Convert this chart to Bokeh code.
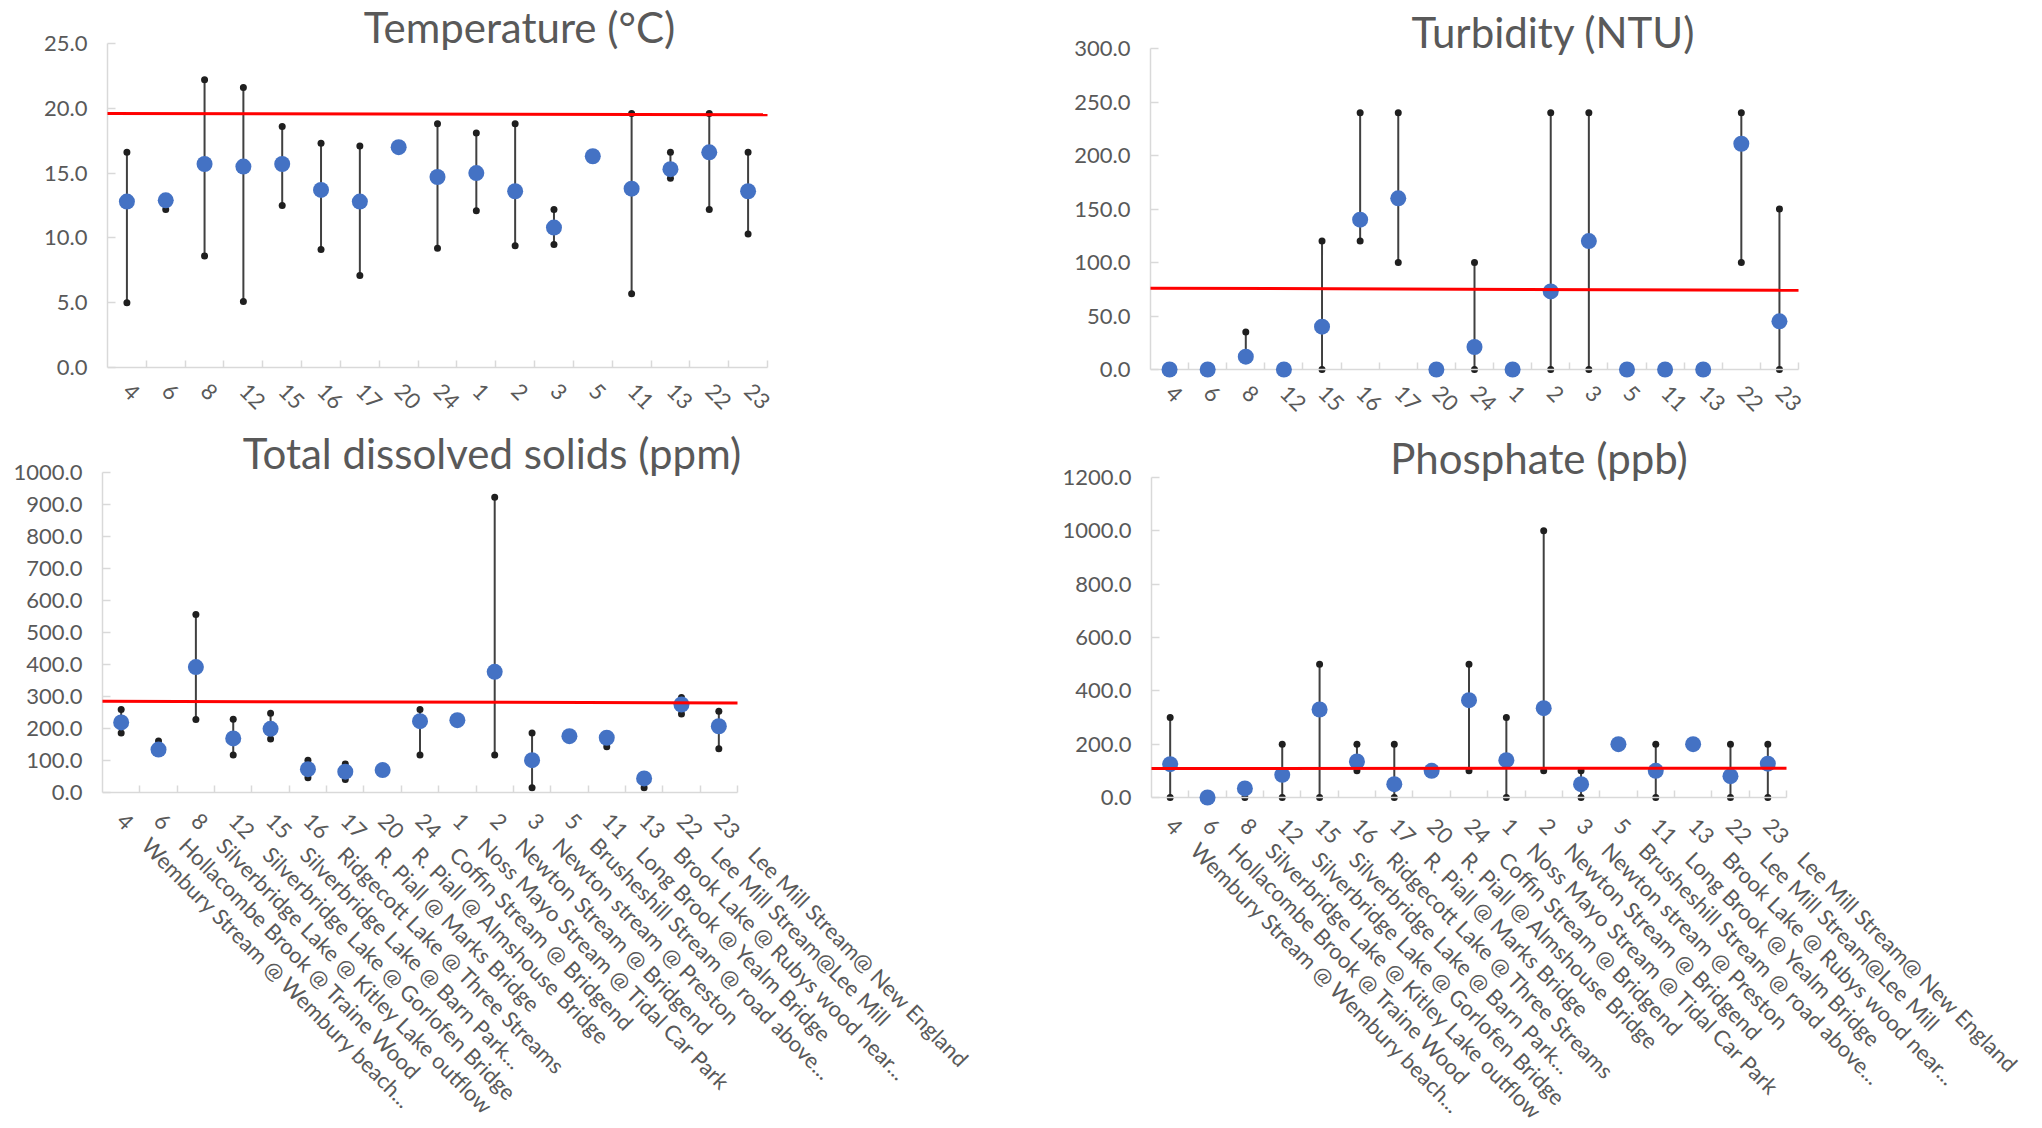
import math
from bokeh.plotting import figure
from bokeh.models import Range1d, FixedTicker, PrintfTickFormatter, Label, ColumnDataSource
from bokeh.layouts import column, row
from bokeh.embed import file_html
from bokeh.resources import INLINE

# ---------------- data ----------------
sites = ["4", "6", "8", "12", "15", "16", "17", "20", "24", "1", "2", "3", "5", "11", "13", "22", "23"]
site_names = [
    "Wembury Stream @ Wembury beach...",
    "Hollacombe Brook @ Traine Wood",
    "Silverbridge Lake @ Kitley Lake outflow",
    "Silverbridge Lake @ Gorlofen Bridge",
    "Silverbridge Lake @ Barn Park...",
    "Ridgecott Lake @ Three Streams",
    "R. Piall @ Marks Bridge",
    "R. Piall @ Almshouse Bridge",
    "Coffin Stream @ Bridgend",
    "Noss Mayo Stream @ Tidal Car Park",
    "Newton Stream @ Bridgend",
    "Newton stream @ Preston",
    "Brusheshill Stream @ road above...",
    "Long Brook @ Yealm Bridge",
    "Brook Lake @ Rubys wood near...",
    "Lee Mill Stream@Lee Mill",
    "Lee Mill Stream@ New England",
]

temp_mean = [12.8, 12.9, 15.7, 15.5, 15.7, 13.7, 12.8, 17.0, 14.7, 15.0, 13.6, 10.8, 16.3, 13.8, 15.3, 16.6, 13.6]
temp_low = [5.0, 12.2, 8.6, 5.1, 12.5, 9.1, 7.1, 17.0, 9.2, 12.1, 9.4, 9.5, 16.3, 5.7, 14.6, 12.2, 10.3]
temp_high = [16.6, 12.9, 22.2, 21.6, 18.6, 17.3, 17.1, 17.0, 18.8, 18.1, 18.8, 12.2, 16.3, 19.6, 16.6, 19.6, 16.6]
temp_limit = [19.6, 19.5]
temp_ticks = [0.0, 5.0, 10.0, 15.0, 20.0, 25.0]

turb_mean = [0, 0, 12, 0, 40, 140, 160, 0, 21, 0, 73, 120, 0, 0, 0, 211, 45]
turb_low = [0, 0, 12, 0, 0, 120, 100, 0, 0, 0, 0, 0, 0, 0, 0, 100, 0]
turb_high = [0, 0, 35, 0, 120, 240, 240, 0, 100, 0, 240, 240, 0, 0, 0, 240, 150]
turb_limit = [76, 74]
turb_ticks = [0.0, 50.0, 100.0, 150.0, 200.0, 250.0, 300.0]

tds_mean = [219, 134, 392, 169, 199, 73, 65, 70, 223, 226, 377, 101, 176, 171, 44, 275, 207]
tds_low = [186, 134, 228, 117, 167, 46, 41, 70, 117, 226, 117, 15, 176, 143, 15, 245, 137]
tds_high = [259, 161, 556, 229, 248, 101, 89, 70, 259, 226, 923, 186, 176, 171, 44, 297, 254]
tds_limit = [285, 280]
tds_ticks = [0.0, 100.0, 200.0, 300.0, 400.0, 500.0, 600.0, 700.0, 800.0, 900.0, 1000.0]

phos_mean = [125, 0, 34, 85, 330, 135, 50, 100, 365, 140, 335, 50, 200, 100, 200, 80, 127]
phos_low = [0, 0, 0, 0, 0, 100, 0, 100, 100, 0, 100, 0, 200, 0, 200, 0, 0]
phos_high = [300, 0, 34, 200, 500, 200, 200, 100, 500, 300, 1000, 100, 200, 200, 200, 200, 200]
phos_limit = [109, 110]
phos_ticks = [0.0, 200.0, 400.0, 600.0, 800.0, 1000.0, 1200.0]

# ---------------- style ----------------
FONT = "Lato"
TXT = "#595959"
AXIS = "#D9D9D9"
BLUE = "#4472C4"
NBSP = "\u00a0"


def make_panel(title, mean, low, high, limit, yticks, show_names,
               fig_w, fig_h, left, frame_w, top_px, zero_px, title_dx, title_rise, standoff):
    n = len(sites)
    xs = list(range(1, n + 1))
    x_lo, x_hi = 0.5, n + 0.5
    x_per_px = (x_hi - x_lo) / frame_w
    ymax = yticks[-1]
    per_px = ymax / (zero_px - top_px)
    # the plotting area fills the canvas (right, top, bottom) so that the
    # rotated labels and the title are not clipped
    x_range = Range1d(x_lo, x_hi + (fig_w - left - frame_w) * x_per_px)
    y_range = Range1d(-(fig_h - zero_px) * per_px, ymax + top_px * per_px)
    p = figure(width=fig_w, height=fig_h, x_range=x_range, y_range=y_range,
               output_backend="svg", toolbar_location=None,
               min_border_left=left, min_border_right=0,
               min_border_top=0, min_border_bottom=0)
    p.outline_line_color = None
    p.xgrid.visible = False
    p.ygrid.visible = False
    p.background_fill_color = "white"
    p.border_fill_color = "white"

    # x axis (drawn at y = 0)
    if show_names:
        labels = [f"{s}{NBSP * 4}{nm}" for s, nm in zip(sites, site_names)]
    else:
        labels = list(sites)
    xa = p.xaxis[0]
    xa.fixed_location = 0
    xa.bounds = (x_lo, x_hi)
    xa.ticker = FixedTicker(ticks=xs, minor_ticks=[x + 0.5 for x in xs])
    xa.major_label_overrides = {x: lab for x, lab in zip(xs, labels)}
    xa.major_label_orientation = -math.pi / 4
    xa.major_tick_line_color = None
    xa.minor_tick_in = 7
    xa.minor_tick_out = 0
    xa.minor_tick_line_color = AXIS
    xa.minor_tick_line_width = 1.5
    xa.axis_line_color = AXIS
    xa.axis_line_width = 1.5
    xa.major_label_text_font = FONT
    xa.major_label_text_font_size = "22px"
    xa.major_label_text_color = TXT
    xa.major_label_standoff = standoff

    # y axis
    ya = p.yaxis[0]
    ya.ticker = FixedTicker(ticks=yticks)
    ya.bounds = (yticks[0], ymax)
    ya.formatter = PrintfTickFormatter(format="%.1f")
    ya.major_tick_in = 8
    ya.major_tick_out = 0
    ya.major_tick_line_color = AXIS
    ya.major_tick_line_width = 1.5
    ya.minor_tick_line_color = None
    ya.axis_line_color = AXIS
    ya.axis_line_width = 1.5
    ya.major_label_text_font = FONT
    ya.major_label_text_font_size = "22px"
    ya.major_label_text_color = TXT
    ya.major_label_standoff = 20

    src = ColumnDataSource(dict(x=xs, mean=mean, low=low, high=high))
    p.segment(x0="x", y0="low", x1="x", y1="high", source=src,
              line_color="#404040", line_width=2)
    p.scatter("x", "low", source=src, size=7, fill_color="#1f1f1f", line_color=None)
    p.scatter("x", "high", source=src, size=7, fill_color="#1f1f1f", line_color=None)
    p.scatter("x", "mean", source=src, size=16, fill_color=BLUE, line_color=None, level="overlay")
    p.line(x=[x_lo, x_hi], y=limit, line_color="#FF0000", line_width=3, level="overlay")

    p.add_layout(Label(x=(x_lo + x_hi) / 2, y=ymax + title_rise * per_px, x_units="data", y_units="data",
                       x_offset=title_dx, text=title,
                       text_align="center", text_baseline="alphabetic",
                       text_font=FONT, text_font_size="42px", text_color=TXT))
    return p


TOP_H = 422
BOT_H = 704

pT = make_panel("Temperature (°C)", temp_mean, temp_low, temp_high, temp_limit, temp_ticks, False,
                1008, TOP_H, 107, 660, 43, 367, 82, 17, 14)
pU = make_panel("Turbidity (NTU)", turb_mean, turb_low, turb_high, turb_limit, turb_ticks, False,
                1032, TOP_H, 142, 648, 48, 369, 79, 17, 14)
pD = make_panel("Total dissolved solids (ppm)", tds_mean, tds_low, tds_high, tds_limit, tds_ticks, True,
                1008, BOT_H, 102, 635, 472 - TOP_H, 792 - TOP_H, 72, 20, 18)
pP = make_panel("Phosphate (ppb)", phos_mean, phos_low, phos_high, phos_limit, phos_ticks, True,
                1032, BOT_H, 143, 635, 477 - TOP_H, 797 - TOP_H, 70, 20, 18)

layout = column(row(pT, pU), row(pD, pP))
open("out.html", "w").write(file_html(layout, INLINE, title="Water quality"))
